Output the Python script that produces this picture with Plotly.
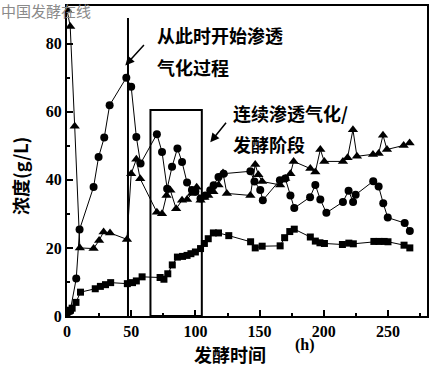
import plotly.graph_objects as go

# Squares (lowest series)
sq_x = [0, 2.5, 4, 7, 10.5, 22, 26, 30, 34, 47, 51, 54, 58.5, 72.5, 75.5, 78.5, 82, 86, 90, 93.5, 96.5, 100,
        104, 107, 110, 114, 118, 126, 143, 146.6, 152, 166, 169.5, 173.5, 177, 189.5, 193.4, 197, 200.5,
        214.5, 219.5, 223, 239, 243, 247, 250, 262.5, 267]
sq_y = [0.7, 1.7, 2.3, 4, 7, 8, 8.7, 9.2, 9.8, 9.5, 9.8, 10.3, 11.5, 11.3, 10.8, 12.4, 15, 17.3, 17.5, 17.8, 18.3, 18.8,
        19.8, 21.3, 22.7, 24.4, 24.4, 23.6, 21.8, 20, 20.5, 20.6, 23, 24.8, 25.5, 23.2, 22, 21.5, 21.3,
        21, 21.4, 21.2, 21.9, 21.9, 21.9, 21.8, 20.8, 20]

# Circles (middle series)
ci_x = [2.5, 7.2, 9.8, 20.7, 24.6, 29, 33.2, 46.2, 50, 54, 57.3, 70, 74, 78, 81.8, 86, 89.6, 93.5, 97.3, 100,
        104, 107.7, 111.6, 114.2, 118, 122, 142.8, 146, 150.5, 152.5, 165.8, 170, 174, 177, 189.3, 193.4, 197.3,
        202, 214.9, 219.3, 222.8, 224.8, 238.5, 242.7, 246.3, 249.8, 263, 267]
ci_y = [1.5, 11, 25.4, 37.9, 46.7, 52.4, 61.9, 70, 67.3, 52.6, 44.8, 53.4, 48.2, 37.4, 43.8, 49.2, 45.2, 39.2, 37, 36.6,
        34.5, 35.4, 36.9, 38.4, 40.8, 41.8, 42.5, 39.5, 37, 34, 39.9, 40.4, 35.4, 31.7, 34.9, 38.5, 34.2,
        30.3, 33.5, 36.8, 33.5, 35.6, 39.6, 38, 33.1, 28.9, 27.3, 25]

# Triangles (upper series)
tr_x = [0, 2.5, 6, 10, 20.7, 25, 28.5, 33.5, 46.7, 50, 54, 57, 70, 74, 77.5, 80.5, 85, 89.6, 93.5, 97.3, 101,
        104, 107, 110, 114, 118, 121.5, 124.5, 142.8, 146.6, 149, 152, 166, 170, 174, 176.5, 189.5, 193.4,
        197.3, 200.4, 214.9, 218.5, 222.7, 225.8, 238.3, 242.7, 246.1, 249.2, 262.2, 266.8]
tr_y = [90, 85, 55.7, 20, 19.8, 22.2, 24.7, 24.4, 22.5, 41.8, 46, 40.3, 30.5, 30, 35.4, 36.9, 31.5, 34, 34.2, 36, 37.8,
        34, 34.8, 35.4, 36.5, 38.5, 42, 36, 35.4, 44.5, 41.5, 39.5, 38.5, 40.4, 41.8, 45.4, 43.3, 42.3,
        48.9, 45.4, 45.4, 46.5, 54.7, 46.9, 47.4, 47.7, 53.1, 48.9, 50.1, 50.8]

x_ticks = [0, 50, 100, 150, 200, 250]
y_ticks = [0, 20, 40, 60, 80]

L, R, T, B = 67, 18, 6, 55
W, H = 445, 371
PW, PH = W - L - R, H - T - B

def px(x):
    return (x - L) / PW

def py(y):
    return (H - B - y) / PH

serif = dict(family="Liberation Serif", size=16, color="black", weight="bold")
cjk = "Noto Sans CJK SC"

fig = go.Figure()
line_style = dict(color="black", width=1)
fig.add_trace(go.Scatter(x=sq_x, y=sq_y, mode="lines+markers", line=line_style,
                         marker=dict(symbol="square", size=7, color="black")))
fig.add_trace(go.Scatter(x=ci_x, y=ci_y, mode="lines+markers", line=line_style,
                         marker=dict(symbol="circle", size=8, color="black")))
fig.add_trace(go.Scatter(x=tr_x, y=tr_y, mode="lines+markers", line=line_style,
                         marker=dict(symbol="triangle-up", size=9, color="black")))

# Vertical line marking the start of pervaporation
fig.add_shape(type="line", x0=47.5, x1=47.5, y0=0, y1=87.5, xref="x", yref="y",
              line=dict(color="black", width=2))
# Rectangle
fig.add_shape(type="rect", x0=65, x1=105, y0=0, y1=60.5, xref="x", yref="y",
              line=dict(color="black", width=2))

annots = [
    dict(text="从此时开始渗透", x=px(155), y=py(35)),
    dict(text="气化过程", x=px(155), y=py(67)),
    dict(text="连续渗透气化/", x=px(231), y=py(113)),
    dict(text="发酵阶段", x=px(231), y=py(144)),
]
for a in annots:
    fig.add_annotation(xref="paper", yref="paper", showarrow=False, xanchor="left", yanchor="middle",
                       font=dict(family=cjk, size=18, color="black", weight="bold"), **a)

# Arrows
fig.add_annotation(x=45.4, y=73.6, ax=61, ay=80, xref="x", yref="y", axref="x", ayref="y",
                   text="", showarrow=True, arrowhead=2, arrowsize=1.2, arrowwidth=1.5, arrowcolor="black")
fig.add_annotation(x=111.6, y=51, ax=124.8, ay=57.2, xref="x", yref="y", axref="x", ayref="y",
                   text="", showarrow=True, arrowhead=2, arrowsize=1.2, arrowwidth=1.5, arrowcolor="black")

# Axis titles
fig.add_annotation(text="浓度(g/L)", x=px(20), y=py(176), xref="paper", yref="paper", showarrow=False,
                   xanchor="center", yanchor="middle",
                   textangle=-90, font=dict(family=cjk, size=18, color="black", weight="bold"))
fig.add_annotation(text="发酵时间", x=px(230), y=py(354), xref="paper", yref="paper", showarrow=False,
                   xanchor="center", yanchor="middle",
                   font=dict(family=cjk, size=18, color="black", weight="bold"))
fig.add_annotation(text="(h)", x=px(305), y=py(345), xref="paper", yref="paper", showarrow=False,
                   xanchor="center", yanchor="middle", font=serif)
# Watermark
fig.add_annotation(text="中国发酵在线", x=px(0), y=py(11), xref="paper", yref="paper", showarrow=False,
                   xanchor="left", yanchor="middle", borderpad=0,
                   font=dict(family=cjk, size=15, color="#8a8a8a"))

axis_common = dict(showline=True, linecolor="black", linewidth=2, mirror=True, ticks="inside",
                   ticklen=6, tickwidth=1.5, tickcolor="black", showgrid=False, zeroline=False,
                   tickfont=serif)
fig.update_xaxes(range=[0, PW / 1.284], tickvals=x_ticks, ticktext=[str(v) for v in x_ticks],
                 minor=dict(ticks="inside", dtick=25, tick0=0, ticklen=3, tickcolor="black"),
                 **axis_common)
fig.update_yaxes(range=[0, PH / 3.405], tickvals=y_ticks, ticktext=[str(v) for v in y_ticks],
                 minor=dict(ticks="inside", dtick=10, tick0=0, ticklen=3, tickcolor="black"),
                 **axis_common)

fig.update_layout(width=W, height=H, margin=dict(l=L, r=R, t=T, b=B, autoexpand=False),
                  paper_bgcolor="white", plot_bgcolor="white", showlegend=False)

fig.write_html("out.html", config={"displayModeBar": False},
               post_script="document.body.style.margin='0';")
